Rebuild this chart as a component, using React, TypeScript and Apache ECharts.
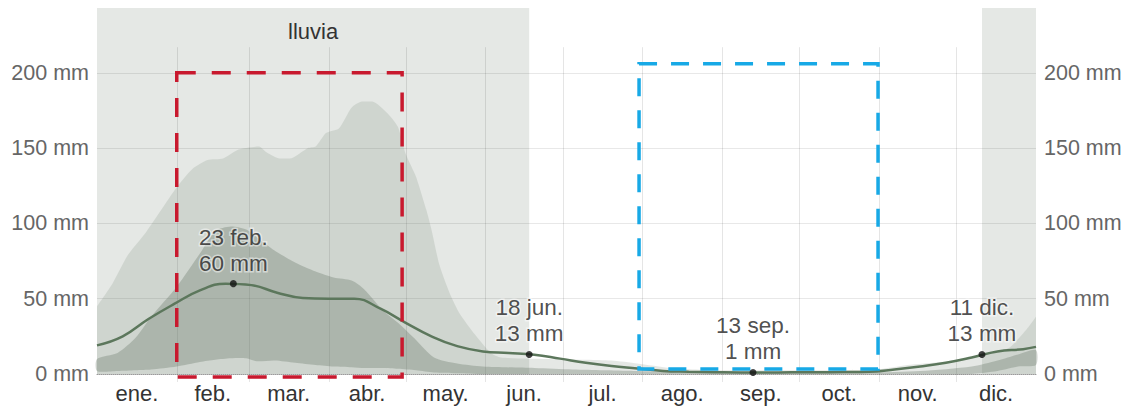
import React, { useEffect, useRef } from "react";
import * as echarts from "echarts";

// ---------- data ----------
const MONTHS = ["ene.", "feb.", "mar.", "abr.", "may.", "jun.", "jul.", "ago.", "sep.", "oct.", "nov.", "dic."];
const MONTH_START_DAYS = [0, 31, 59, 90, 120, 151, 181, 212, 243, 273, 304, 334, 365];
const Y_TICKS = [0, 50, 100, 150, 200];
const Y_MAX = 243;
const V_LINE_TOP = 217;

// wet season (lluvia) shading, in days of the year
const WET_SEASONS: number[][] = [
  [0, 168],
  [344, 365],
];
const WET_SEASON_LABELS = ["lluvia", ""];

// median rainfall (mm), read every 10 days
const MEDIAN_DAYS = [0, 10, 20, 30, 40, 50, 60, 70, 80, 90, 100, 110, 120, 130, 140, 150, 160, 170, 180, 190, 200, 210, 220, 230, 240, 250, 260, 270, 280, 290, 300, 310, 320, 330, 340, 350, 360, 365];
const MEDIAN_MM = [19, 25, 36.5, 46.5, 55.5, 60, 59, 54, 50.5, 50, 50, 43.5, 34, 25, 18.5, 15, 14, 12.8, 10.2, 7.5, 5.3, 3.7, 2, 1.5, 1.2, 1, 1, 1.1, 1.2, 1.3, 1.5, 3, 5, 7.5, 11, 15, 16.5, 18];

// 10th-90th percentile band: upper edge (lower edge is 0 mm)
const P90_UPPER: number[][] = [
  [0, 45], [6, 60], [12, 79], [19, 94], [25, 109], [31, 124], [37, 136], [43, 142], [49, 143],
  [55, 149], [63, 151], [66, 147], [71, 143], [75, 143], [82, 150], [85, 151], [89, 160],
  [94, 163], [99, 177], [103, 181], [107, 181], [113, 173], [117, 164], [120, 146], [124, 131],
  [128, 109], [130, 96], [133, 73], [137, 54], [141, 40], [147, 26], [153, 14], [157, 11],
  [175, 10], [200, 9], [210, 7], [223, 4], [240, 2.5], [280, 2.5], [303, 3], [315, 6],
  [328, 8], [340, 11], [350, 14.5], [355, 18], [359, 25], [362, 31], [365, 38],
];

// 25th-75th percentile band
const IQR_DAYS = [0, 8, 15, 21, 31, 40, 46, 52, 58, 62, 69, 77, 85, 92, 99, 104, 111, 117, 124, 131, 140, 150, 170, 185, 210, 230, 260, 300, 320, 340, 350, 358, 365];
const IQR_UPPER = [10, 14, 24, 38, 58, 80, 95, 98, 96, 91, 82, 74, 68, 64, 62, 56, 42.5, 34, 22.6, 11, 7, 5, 4, 3, 2, 1, 1, 1, 2, 5, 9, 13, 16];
const IQR_LOWER = [2, 2, 2.5, 3, 5, 8, 9.5, 10.5, 10.5, 8.5, 9, 7.5, 6, 5, 4.5, 4, 4, 3.5, 2.5, 1, 0.5, 0, 0, 0, 0, 0, 0, 0, 0, 0, 2, 5, 6];

// highlighted points
const HIGHLIGHT_NAMES = ["23 feb.", "18 jun.", "13 sep.", "11 dic."];
const HIGHLIGHT_DAYS = [53, 168, 255, 344];
const HIGHLIGHT_VALUES = [60, 13, 1, 13];

// dashed annotation boxes: [dayStart, mmBottom, dayEnd, mmTop]
const BOXES: number[][] = [
  [31, -2, 118.6, 200],
  [210.7, 3.3, 303.6, 206],
];
const BOX_COLORS = ["#c8192e", "#17a9e6"];

const FONT = '"Liberation Sans", Arial, Helvetica, sans-serif';

export default function App() {
  const ref = useRef<HTMLDivElement>(null);

  useEffect(() => {
    if (!ref.current) return;
    const chart = echarts.init(ref.current, null, { renderer: "svg" });

    const midDays = MONTHS.map((_, i) => (MONTH_START_DAYS[i] + MONTH_START_DAYS[i + 1]) / 2);
    const innerBoundaries = MONTH_START_DAYS.slice(1, -1).map((d) => [d]);

    const yLabel = {
      formatter: (v: number) => (Y_TICKS.indexOf(v) >= 0 ? `${v} mm` : ""),
      showMaxLabel: false,
      color: "#666",
      fontSize: 21.5,
      fontFamily: FONT,
      margin: 8,
    };

    const option: any = {
      animation: false,
      grid: { left: 97, right: 96, top: 8, bottom: 36 },
      xAxis: {
        type: "value",
        min: 0,
        max: 365,
        axisLine: { show: true, lineStyle: { type: "dotted", color: "#9a9a9a", width: 1 } },
        axisTick: { show: false },
        splitLine: { show: false },
        axisLabel: {
          customValues: midDays,
          formatter: (v: number) => {
            const i = midDays.indexOf(v);
            return i >= 0 ? MONTHS[i] : "";
          },
          color: "#333",
          fontSize: 22,
          fontFamily: FONT,
          margin: 8,
        },
      },
      yAxis: [
        {
          type: "value",
          min: 0,
          max: Y_MAX,
          interval: 50,
          position: "left",
          z: 1.5,
          axisLine: { show: false },
          axisTick: { show: false },
          axisLabel: yLabel,
          splitLine: {
            show: true,
            showMinLine: false,
            showMaxLine: false,
            lineStyle: { color: "rgba(0,0,0,0.09)", width: 1 },
          },
        },
        {
          type: "value",
          min: 0,
          max: Y_MAX,
          interval: 50,
          position: "right",
          axisLine: { show: false },
          axisTick: { show: false },
          axisLabel: yLabel,
          splitLine: { show: false },
        },
      ],
      series: [
        {
          type: "custom",
          name: "wet",
          z: 1,
          silent: true,
          encode: { x: [0, 1] },
          data: WET_SEASONS,
          renderItem: (params: any, api: any) => {
            const p0 = api.coord([api.value(0), Y_MAX]);
            const p1 = api.coord([api.value(1), 0]);
            const label = WET_SEASON_LABELS[params.dataIndex];
            const children: any[] = [
              {
                type: "rect",
                shape: { x: p0[0], y: p0[1], width: p1[0] - p0[0], height: p1[1] - p0[1] },
                style: { fill: "#e5e8e5" },
              },
            ];
            if (label) {
              children.push({
                type: "text",
                x: (p0[0] + p1[0]) / 2,
                y: p0[1] + 23,
                style: {
                  text: label,
                  align: "center",
                  verticalAlign: "middle",
                  fontSize: 22,
                  fontFamily: FONT,
                  fill: "#333",
                },
              });
            }
            return { type: "group", children };
          },
        },
        {
          type: "custom",
          name: "vgrid",
          z: 2,
          silent: true,
          encode: { x: 0 },
          data: innerBoundaries,
          renderItem: (_params: any, api: any) => {
            const top = api.coord([api.value(0), V_LINE_TOP]);
            const bot = api.coord([api.value(0), 0]);
            const x = Math.round(top[0]) + 0.5;
            return {
              type: "line",
              shape: { x1: x, y1: top[1], x2: x, y2: bot[1] + 8 },
              style: { stroke: "rgba(0,0,0,0.1)", lineWidth: 1 },
            };
          },
        },
        {
          type: "line",
          name: "p90",
          z: 3,
          data: P90_UPPER,
          smooth: 0.2,
          symbol: "none",
          lineStyle: { width: 0 },
          areaStyle: { color: "rgba(110,128,110,0.26)", origin: "start" },
          silent: true,
        },
        {
          type: "custom",
          name: "iqr",
          z: 4,
          silent: true,
          encode: { x: 0 },
          data: [[0]],
          renderItem: (_params: any, api: any) => {
            const upper = IQR_DAYS.map((d, i) => api.coord([d, IQR_UPPER[i]]));
            const lower = IQR_DAYS.map((d, i) => api.coord([d, IQR_LOWER[i]])).reverse();
            return {
              type: "polygon",
              shape: { points: upper.concat(lower), smooth: 0.25 },
              style: { fill: "rgba(100,116,100,0.32)" },
            };
          },
        },
        {
          type: "line",
          name: "median",
          z: 5,
          data: MEDIAN_DAYS.map((d, i) => [d, MEDIAN_MM[i]]),
          smooth: 0.45,
          symbol: "none",
          lineStyle: { color: "#5c775c", width: 2.5 },
          silent: true,
        },
        {
          type: "custom",
          name: "boxes",
          z: 6,
          silent: true,
          encode: { x: [0, 2], y: [1, 3] },
          data: BOXES,
          renderItem: (params: any, api: any) => {
            const p0 = api.coord([api.value(0), api.value(3)]);
            const p1 = api.coord([api.value(2), api.value(1)]);
            return {
              type: "rect",
              shape: { x: p0[0], y: p0[1], width: p1[0] - p0[0], height: p1[1] - p0[1] },
              style: {
                fill: "none",
                stroke: BOX_COLORS[params.dataIndex],
                lineWidth: 3.5,
                lineDash: params.dataIndex === 0 ? [19, 16] : [18, 14],
              },
            };
          },
        },
        {
          type: "scatter",
          name: "highlights",
          z: 7,
          symbolSize: 7,
          itemStyle: { color: "#111" },
          data: HIGHLIGHT_NAMES.map((n, i) => ({ name: n, value: [HIGHLIGHT_DAYS[i], HIGHLIGHT_VALUES[i]] })),
          label: {
            show: true,
            position: "top",
            distance: 4,
            formatter: (p: any) => `${p.name}\n${p.value[1]} mm`,
            color: "#222",
            fontSize: 22.5,
            lineHeight: 26,
            fontFamily: FONT,
            align: "center",
            textBorderColor: "rgba(255,255,255,0.6)",
            textBorderWidth: 3,
          },
          silent: true,
        },
      ],
    };

    chart.setOption(option);
    return () => chart.dispose();
  }, []);

  return (
    <div
      ref={ref}
      style={{ position: "fixed", left: 0, top: 0, width: 1132, height: 410, background: "#fff" }}
    />
  );
}
